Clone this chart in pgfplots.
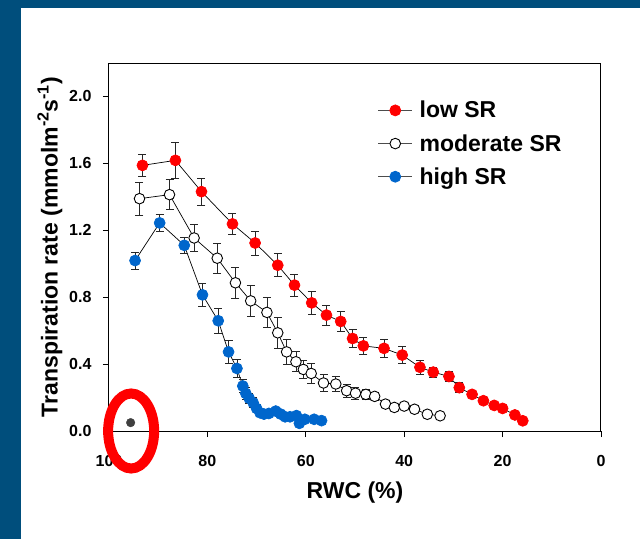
\documentclass[border=0pt]{standalone}
\usepackage{fontspec}
\setmainfont{Liberation Sans}
\usepackage{pgfplots}
\usepackage{pgfplotstable}
\pgfplotsset{compat=1.18}
\definecolor{frameblue}{RGB}{0,78,124}
\definecolor{redpt}{RGB}{255,0,0}
\definecolor{bluept}{RGB}{0,102,204}

\pgfplotstableread{
x y e
93.2 1.588 0.065
86.5 1.618 0.110
81.2 1.431 0.080
74.9 1.238 0.065
70.3 1.124 0.072
65.7 0.991 0.068
62.3 0.872 0.066
58.8 0.766 0.067
55.8 0.693 0.060
52.9 0.655 0.062
50.5 0.553 0.055
48.3 0.509 0.050
44.1 0.494 0.055
40.4 0.454 0.050
36.8 0.381 0.040
34.1 0.352 0.030
30.9 0.326 0.030
28.8 0.259 0.030
26.2 0.219 0.015
23.9 0.181 0.010
21.7 0.153 0.010
20.0 0.135 0.010
17.5 0.096 0.010
15.9 0.061 0.010
}\lowsr

\pgfplotstableread{
x y e
93.8 1.389 0.100
87.7 1.413 0.090
82.7 1.154 0.080
78.0 1.033 0.088
74.3 0.886 0.095
71.2 0.778 0.093
67.9 0.709 0.090
65.7 0.587 0.095
63.9 0.473 0.075
62.0 0.414 0.060
60.5 0.368 0.055
58.9 0.344 0.060
56.4 0.287 0.050
53.9 0.281 0.045
51.7 0.241 0.040
49.9 0.226 0.035
47.8 0.219 0.030
46.0 0.207 0.025
43.8 0.161 0.020
42.0 0.141 0.015
40.0 0.149 0.015
37.9 0.130 0.010
35.3 0.100 0.010
32.7 0.091 0.010
}\modsr

\pgfplotstableread{
x y e
94.7 1.019 0.050
89.7 1.244 0.050
84.7 1.110 0.050
81.0 0.814 0.070
77.8 0.659 0.074
75.7 0.473 0.070
74.0 0.374 0.055
72.8 0.269 0.040
72.2 0.225 0.035
71.5 0.195 0.030
70.7 0.169 0.030
70.0 0.135 0.025
69.3 0.109 0.020
68.5 0.101 0.020
67.5 0.105 0.015
66.1 0.119 0.015
65.1 0.101 0.015
64.2 0.085 0.010
63.2 0.085 0.010
61.9 0.092 0.010
61.3 0.046 0.010
60.2 0.070 0.010
58.3 0.070 0.010
56.8 0.062 0.010
}\highsr

\begin{document}
\begin{tikzpicture}[x=1pt,y=1pt]
\useasboundingbox (0,0) rectangle (640,539);
\fill[frameblue] (0,0) rectangle (21,539);
\fill[frameblue] (0,531) rectangle (640,539);
\begin{axis}[
  at={(109pt,108pt)}, anchor=south west,
  scale only axis, width=492pt, height=368pt,
  x dir=reverse, xmin=0, xmax=100, ymin=0, ymax=2.2,
  xtick={0,20,40,60,80,100}, ytick={0,0.4,0.8,1.2,1.6,2.0},
  clip=false,
  axis line style={black, line width=1pt},
  tick pos=left, tick align=outside, major tick length=6pt,
  tick style={black, line width=0.8pt},
  /pgf/number format/assume math mode=true,
  tick label style={font=\fontsize{16}{16}\selectfont\bfseries},
  yticklabel style={xshift=-8pt, /pgf/number format/.cd, fixed, fixed zerofill, precision=1},
  xticklabel style={yshift=-15pt, /pgf/number format/.cd, fixed, precision=0},
  xlabel={RWC (\%)},
  ylabel={Transpiration rate (mmolm\textsuperscript{-2}s\textsuperscript{-1})},
  label style={font=\fontsize{23}{26}\selectfont\bfseries},
  xlabel style={at={(axis description cs:0.5,-0.168)}, anchor=center},
  ylabel style={at={(axis description cs:-0.12,0.5)}, anchor=center},
  legend style={draw=none, fill=none, at={(rel axis cs:0.54,0.91)}, anchor=north west,
    font=\fontsize{23}{23}\selectfont\bfseries, row sep=9pt,
    nodes={inner sep=3pt}},
  legend cell align=left,
  legend image code/.code={\draw[mark repeat=2, mark phase=2, black!70, line width=0.8pt]
    plot coordinates {(0pt,0pt) (17pt,0pt) (34pt,0pt)};
    \path (0pt,0pt) (38pt,0pt);},
  error bars/y dir=both, error bars/y explicit,
  error bars/error bar style={black!85, line width=0.8pt},
  error bars/error mark options={rotate=90, black!85, line width=0.8pt, mark size=4pt},
]
\addplot[black, line width=0.7pt, mark=*, mark size=5.5pt, mark options={fill=redpt, draw=redpt}]
  table[x=x, y=y, y error=e] {\lowsr};
\addlegendentry{low SR}
\addplot[black, line width=0.7pt, mark=*, mark size=5.3pt, mark options={fill=white, draw=black, line width=0.9pt}]
  table[x=x, y=y, y error=e] {\modsr};
\addlegendentry{moderate SR}
\addplot[black, line width=0.7pt, mark=*, mark size=5.5pt, mark options={fill=bluept, draw=bluept}]
  table[x=x, y=y, y error=e] {\highsr};
\addlegendentry{high SR}
\addplot[only marks, mark=*, mark size=4.3pt, color=black!75, forget plot] coordinates {(95.6,0.05)};
\draw[redpt, line width=10pt] (axis cs:95.5,0.0) ellipse [x radius=23pt, y radius=37.5pt];
\end{axis}
\end{tikzpicture}
\end{document}
